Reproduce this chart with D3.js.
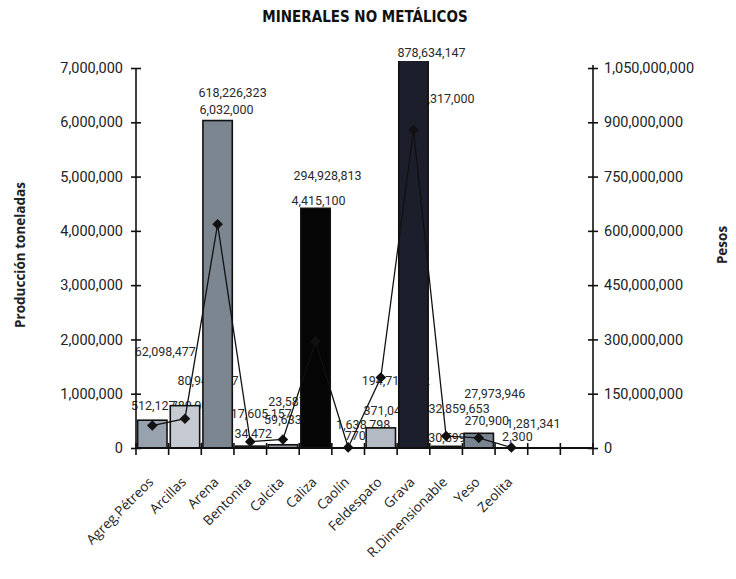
<!DOCTYPE html>
<html>
<head>
<meta charset="utf-8">
<script src="https://cdn.jsdelivr.net/npm/d3@7"></script>
<style>
  html, body { margin: 0; padding: 0; background: #ffffff; }
  svg { display: block; }
</style>
</head>
<body>
<div id="chart"></div>
<script>
// ---------------- data ----------------
const categories = ["Agreg.Pétreos", "Arcillas", "Arena", "Bentonita", "Calcita", "Caliza",
                    "Caolín", "Feldespato", "Grava", "R.Dimensionable", "Yeso", "Zeolita"];
const emptySlots = 2; // two unlabeled slots at the right end of the axis
const toneladas = [512127, 780000, 6032000, 34472, 59633, 4415100, 770, 371048, 7317000, 30599, 270900, 2300];
const pesos = [62098477, 80943787, 618226323, 17605157, 23587167, 294928813, 1638798, 194718452, 878634147, 32859653, 27973946, 1281341];
const leftTicks = [0, 1000000, 2000000, 3000000, 4000000, 5000000, 6000000, 7000000];
const rightTicks = [0, 150000000, 300000000, 450000000, 600000000, 750000000, 900000000, 1050000000];
const barColors = ["#98a2ae", "#c6cbd3", "#7c8691", "#9aa1aa", "#8f969f", "#050505",
                   "#b0b6be", "#b3bac4", "#1d1e2b", "#9ea5ae", "#7a8490", "#a8aeb6"];
// label nudges (px) relative to the mark, as placed in the original chart
const tonLabelNudge = [[1,-10],[8,4],[9,-7],[3,-8],[0,-21],[3,-3],[7,-8],[5,-13],[34,52],[1,-4],[8,-8],[6,-7]];
const pesoLabelNudge = [[13,-70],[23,-34],[15,-127],[11,-24],[16,-33],[12,-161],[15,-18],[15,7],[18,-73],[13,-23],[16,-40],[22,-20]];

// ---------------- layout ----------------
const W = 736, H = 579;
const L = 136, R = 593, B = 448, T = 68, plotTop = 61;
const fmt = d3.format(",");
const labelFont = "Roboto, 'Liberation Sans', sans-serif";

const svg = d3.select("#chart").append("svg").attr("width", W).attr("height", H);

const slots = d3.range(categories.length + emptySlots);
const x = d3.scaleBand().domain(slots).range([L, R]).paddingInner(0.1).paddingOuter(0.05);
const yL = d3.scaleLinear().domain([0, 7000000]).range([B, T]);
const yR = d3.scaleLinear().domain([0, 1050000000]).range([B, T]);
const cx = i => x(i) + x.bandwidth() / 2;

svg.append("defs").append("clipPath").attr("id", "plotclip")
  .append("rect").attr("x", L).attr("y", plotTop).attr("width", R - L).attr("height", B - plotTop + 1);

// title
svg.append("text").attr("x", 365).attr("y", 22).attr("text-anchor", "middle")
  .attr("font-family", "'DejaVu Sans Condensed', 'DejaVu Sans', sans-serif")
  .attr("font-weight", "bold").attr("font-size", 15).attr("fill", "#111")
  .text("MINERALES NO METÁLICOS");

// data labels (drawn beneath the bars, as in the original)
const labG = svg.append("g").attr("font-family", labelFont).attr("font-size", 12.5).attr("fill", "#2a2a2a")
  .attr("text-anchor", "middle");
categories.forEach((c, i) => {
  labG.append("text")
    .attr("x", cx(i) + pesoLabelNudge[i][0])
    .attr("y", yR(pesos[i]) + pesoLabelNudge[i][1])
    .text(fmt(pesos[i]));
  labG.append("text")
    .attr("x", cx(i) + tonLabelNudge[i][0])
    .attr("y", yL(toneladas[i]) + tonLabelNudge[i][1])
    .text(fmt(toneladas[i]));
});

// bars
svg.append("g").attr("clip-path", "url(#plotclip)")
  .selectAll("rect").data(toneladas).join("rect")
  .attr("x", (d, i) => x(i))
  .attr("width", x.bandwidth())
  .attr("y", d => yL(d))
  .attr("height", d => B - yL(d))
  .attr("fill", (d, i) => barColors[i])
  .attr("stroke", "#111").attr("stroke-width", 1.6);

// line (pesos)
const line = d3.line().x((d, i) => cx(i)).y(d => yR(d));
svg.append("path").datum(pesos).attr("d", line)
  .attr("fill", "none").attr("stroke", "#111").attr("stroke-width", 1.3);
svg.append("g").selectAll("path").data(pesos).join("path")
  .attr("transform", (d, i) => `translate(${cx(i)},${yR(d)})`)
  .attr("d", d3.symbol(d3.symbolDiamond2, 72))
  .attr("fill", "#111");

// axes
const axL = svg.append("g").attr("transform", `translate(${L},0)`)
  .call(d3.axisLeft(yL).tickValues(leftTicks).tickFormat(fmt).tickSize(5).tickPadding(8));
axL.selectAll(".tick line").attr("x1", 5).attr("x2", -5);
const axR = svg.append("g").attr("transform", `translate(${R},0)`)
  .call(d3.axisRight(yR).tickValues(rightTicks).tickFormat(fmt).tickSize(5).tickPadding(6));
axR.selectAll(".tick line").attr("x1", -5).attr("x2", 5);
[axL, axR].forEach(a => {
  a.select(".domain").remove();
  a.selectAll(".tick line").attr("stroke", "#111").attr("stroke-width", 1.6);
  a.selectAll(".tick text").attr("font-family", labelFont).attr("font-size", 14.5).attr("fill", "#222");
});
svg.append("line").attr("x1", L).attr("x2", L).attr("y1", T).attr("y2", B).attr("stroke", "#111").attr("stroke-width", 1.6);
svg.append("line").attr("x1", R).attr("x2", R).attr("y1", T - 3).attr("y2", B).attr("stroke", "#111").attr("stroke-width", 1.6);

// x axis
const xa = svg.append("g");
xa.append("line").attr("x1", L).attr("x2", R).attr("y1", B).attr("y2", B).attr("stroke", "#111").attr("stroke-width", 1.8);
const boundaries = d3.range(slots.length + 1).map(i => L + i * x.step());
xa.selectAll("line.tk").data(boundaries).join("line").attr("class", "tk")
  .attr("x1", d => d).attr("x2", d => d).attr("y1", B - 5).attr("y2", B + 7)
  .attr("stroke", "#111").attr("stroke-width", 1.6);
xa.selectAll("text").data(categories).join("text")
  .attr("transform", (d, i) => `translate(${cx(i) + 2},${B + 35}) rotate(-45)`)
  .attr("text-anchor", "end")
  .attr("font-family", "'Open Sans', sans-serif").attr("font-size", 13.5).attr("fill", "#222")
  .text(d => d);

// axis titles
svg.append("text").attr("transform", "translate(25,255) rotate(-90)").attr("text-anchor", "middle")
  .attr("font-family", "'Open Sans', sans-serif").attr("font-weight", "bold").attr("font-size", 13.5).attr("fill", "#222")
  .text("Producción toneladas");
svg.append("text").attr("transform", "translate(727,245) rotate(-90)").attr("text-anchor", "middle")
  .attr("font-family", "'Open Sans', sans-serif").attr("font-weight", "bold").attr("font-size", 13.5).attr("fill", "#222")
  .text("Pesos");
</script>
</body>
</html>
